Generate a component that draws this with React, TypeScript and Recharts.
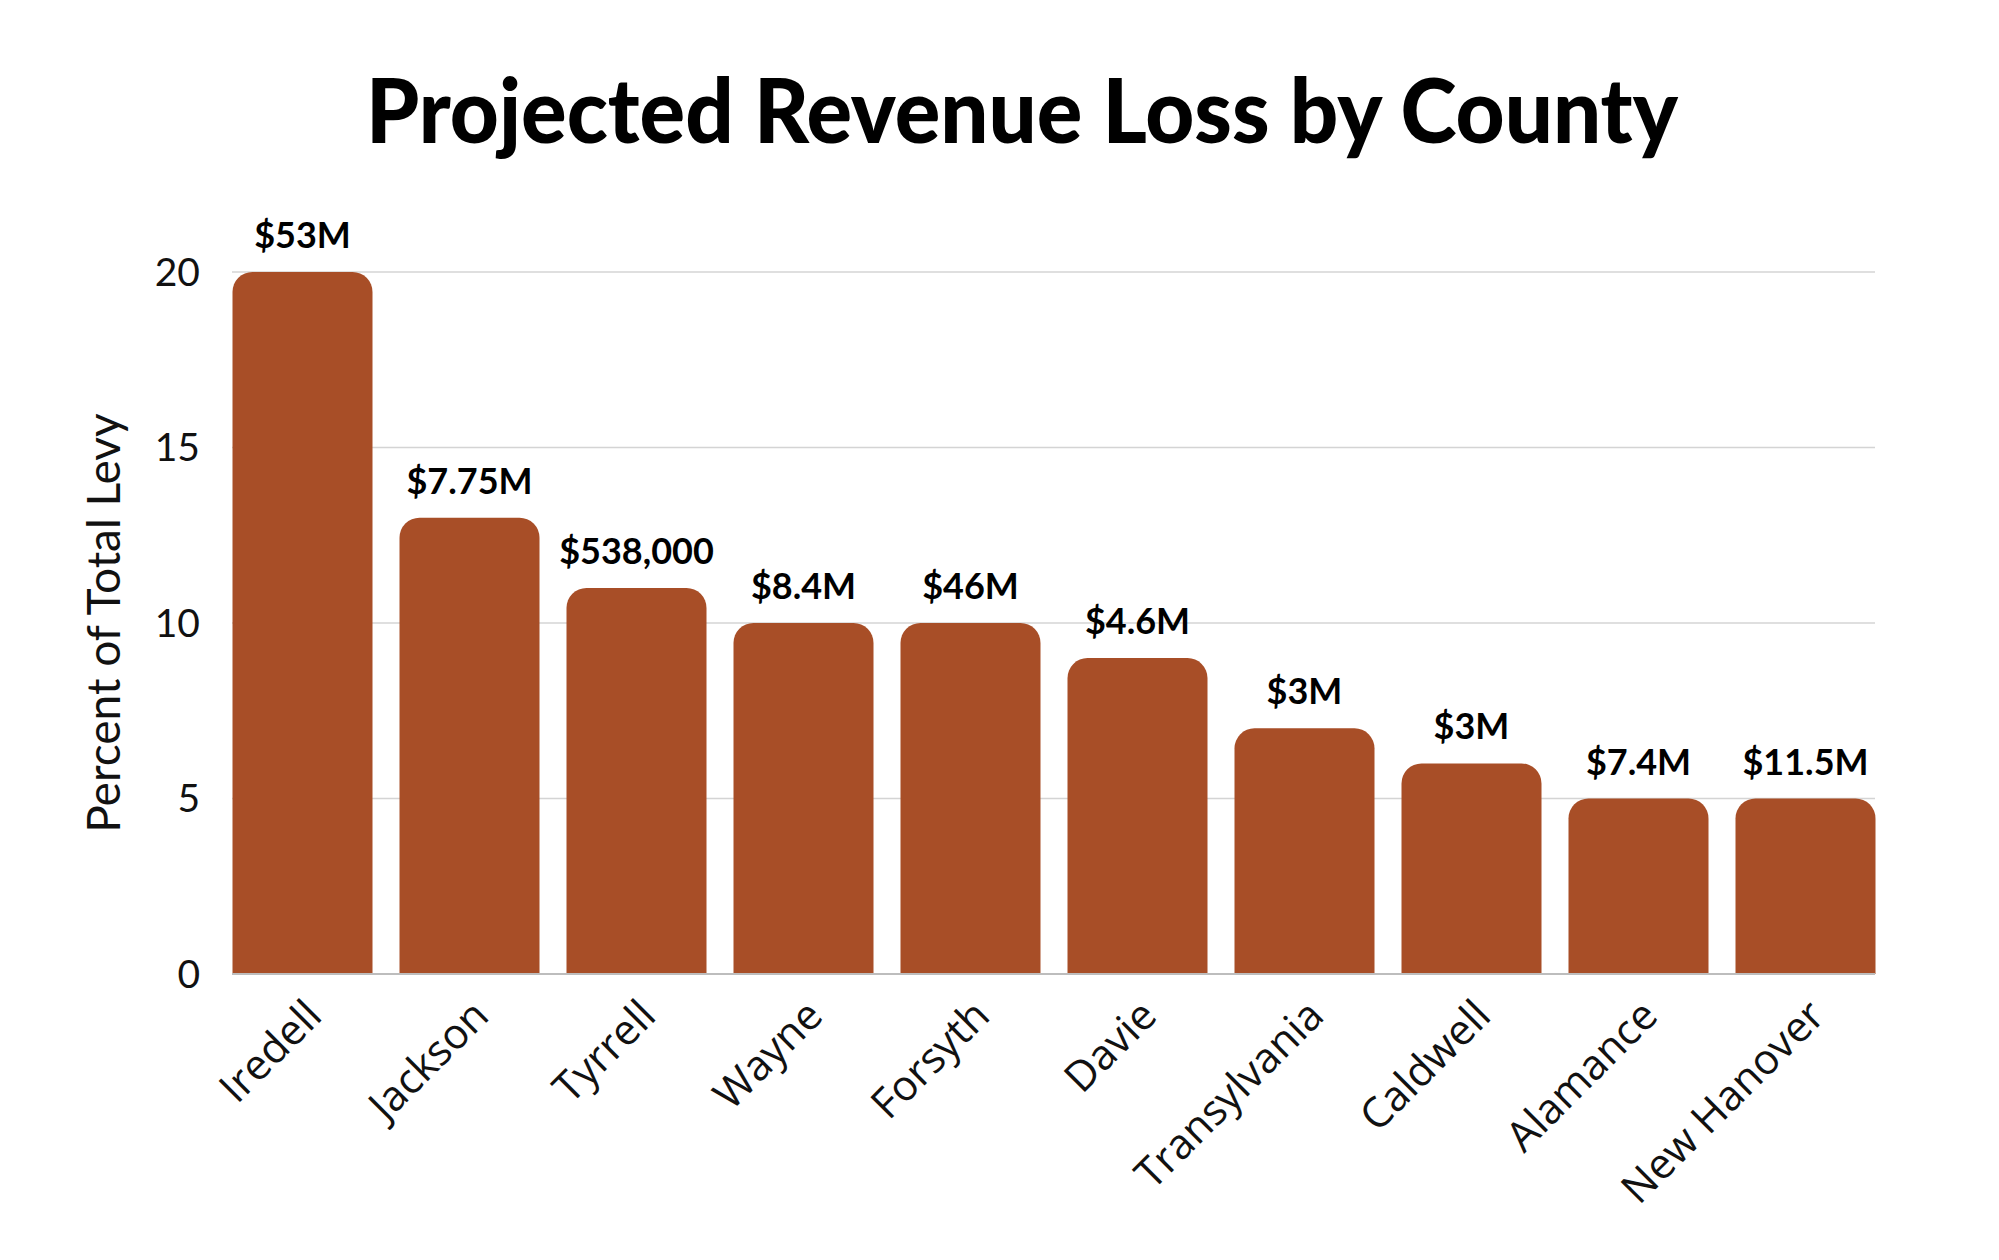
import React from 'react';
import { BarChart, Bar, XAxis, YAxis, CartesianGrid, LabelList } from 'recharts';

const counties = ['Iredell', 'Jackson', 'Tyrrell', 'Wayne', 'Forsyth', 'Davie', 'Transylvania', 'Caldwell', 'Alamance', 'New Hanover'];
const levyPercent = [20, 13, 11, 10, 10, 9, 7, 6, 5, 5];
const lossLabels = ['$53M', '$7.75M', '$538,000', '$8.4M', '$46M', '$4.6M', '$3M', '$3M', '$7.4M', '$11.5M'];
const yTicks = [0, 5, 10, 15, 20];

const data = counties.map((county, i) => ({
  county,
  percent: levyPercent[i],
  loss: lossLabels[i],
}));

const BAR_COLOR = '#A84E27';
const FONT = 'Lato, "Open Sans", sans-serif';
const CAT_FONT = '"Open Sans", Lato, sans-serif';

const CountyTick = (props: any) => {
  const { x, y, payload } = props;
  return (
    <g transform={`translate(${x + 22},${y + 44})`}>
      <text textAnchor="end" transform="rotate(-45)" fontSize={42} fontFamily={CAT_FONT} fill="#111">
        {payload.value}
      </text>
    </g>
  );
};

const App: React.FC = () => {
  return (
    <div style={{ position: 'absolute', left: 0, top: 0, width: 1999, height: 1260, background: '#fff' }}>
      <svg width={1999} height={200} style={{ position: 'absolute', left: 0, top: 0 }}>
        <text
          x={1022}
          y={143}
          textAnchor="middle"
          fontSize={90}
          fontWeight={900}
          fontFamily={FONT}
          fill="#000"
          textLength={1312}
          lengthAdjust="spacingAndGlyphs"
        >
          Projected Revenue Loss by County
        </text>
      </svg>
      <BarChart
        width={1999}
        height={1260}
        data={data}
        margin={{ top: 272, right: 124, bottom: 86, left: 0 }}
      >
        <CartesianGrid vertical={false} stroke="#d4d4d4" strokeWidth={1.5} />
        <XAxis
          dataKey="county"
          interval={0}
          height={200}
          tickSize={0}
          tickMargin={0}
          tickLine={false}
          axisLine={{ stroke: '#bdbdbd', strokeWidth: 2 }}
          padding={{ left: -13.5, right: -13.5 }}
          tick={<CountyTick />}
        />
        <YAxis
          width={232}
          domain={[0, 20]}
          ticks={yTicks}
          axisLine={false}
          tickLine={false}
          tickSize={0}
          tickMargin={32}
          tick={{ fontSize: 39, fontFamily: FONT, fill: '#111' }}
          label={{
            value: 'Percent of Total Levy',
            angle: -90,
            position: 'insideLeft',
            offset: 104,
            style: { textAnchor: 'middle', fontSize: 46, fontFamily: FONT, fill: '#111' },
          }}
        />
        <Bar dataKey="percent" fill={BAR_COLOR} barSize={140} radius={[20, 20, 0, 0]} isAnimationActive={false}>
          <LabelList
            dataKey="loss"
            position="top"
            offset={24}
            fill="#000"
            fontSize={36}
            fontWeight={700}
            fontFamily={FONT}
          />
        </Bar>
      </BarChart>
    </div>
  );
};

export default App;
